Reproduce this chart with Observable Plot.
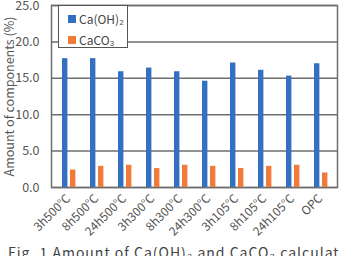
<!DOCTYPE html>
<html><head><meta charset="utf-8">
<script src="https://cdn.jsdelivr.net/npm/d3@7"></script>
<script src="https://cdn.jsdelivr.net/npm/@observablehq/plot@0.6"></script>
<style>
html,body{margin:0;padding:0;background:#fff;overflow:hidden;width:340px;height:256px;}
#wrap{position:relative;width:340px;height:242px;}
#chart svg{font-family:"Noto Sans CJK JP",sans-serif;}
#legend{position:absolute;left:58px;top:5px;width:70px;height:43px;background:#fff;border:1px solid #555;box-sizing:border-box;font:12px "Noto Sans CJK JP",sans-serif;color:#444;}
.li{position:absolute;left:9px;display:flex;align-items:center;line-height:14px;}
.sw{width:8px;height:8px;margin-right:3px;}
#cap{font:14px "Noto Sans CJK JP",sans-serif;color:#444;padding-left:8px;letter-spacing:1px;white-space:nowrap;line-height:20px;}
</style></head><body>
<div id="wrap"><div id="chart"></div>
<div id="legend"></div></div>
<div id="cap">Fig. 1  Amount of Ca(OH)₂ and CaCO₃ calculated</div>
<script>
const categories = ["3h500°C","8h500°C","24h500°C","3h300°C","8h300°C","24h300°C","3h105°C","8h105°C","24h105°C","OPC"];
const caOH2 = [17.7,17.7,15.9,16.4,15.9,14.6,17.1,16.1,15.3,17.0];
const caCO3 = [2.4,2.9,3.05,2.6,3.05,2.9,2.6,2.9,3.05,2.0];
const seriesNames = ["Ca(OH)₂","CaCO₃"];
const colors = ["#3470C2","#EF7B3A"];
const yTicks = [0,5,10,15,20,25];

const data = categories.map((c,i)=>({cat:c, a:caOH2[i], b:caCO3[i]}));

const plot = Plot.plot({
  width: 340, height: 242,
  marginLeft: 51, marginRight: 3, marginTop: 5, marginBottom: 55,
  x: {domain: categories, padding: 0, label: null},
  y: {domain: [0,25], label: "Amount of components (%)"},
  marks: [
    Plot.ruleY(yTicks, {stroke: "#6e6e6e", strokeWidth: 1.5}),
    Plot.frame({stroke: "#6e6e6e", strokeWidth: 1.5}),
    Plot.barY(data, {x: "cat", y: "a", fill: colors[0], insetLeft: 8, insetRight: 14.6}),
    Plot.barY(data, {x: "cat", y: "b", fill: colors[1], insetLeft: 16, insetRight: 6.6}),
    Plot.axisY({ticks: yTicks, tickFormat: d3.format(".1f"), tickSize: 0, tickPadding: 12, fill: "#555",
      label: "Amount of components (%)", labelAnchor: "center", labelArrow: "none", labelOffset: 46, fontSize: 12.5, letterSpacing: "0.3px"}),
    Plot.axisX({tickSize: 0, tickRotate: -45, tickPadding: 9, fontSize: 12, fill: "#555", label: null})
  ]
});
document.getElementById("chart").appendChild(plot);

const lg = document.getElementById("legend");
seriesNames.forEach((n,i)=>{
  const d = document.createElement("div");
  d.className = "li"; d.style.top = (6 + i*21) + "px";
  d.innerHTML = `<span class="sw" style="background:${colors[i]}"></span><span>${n}</span>`;
  lg.appendChild(d);
});
</script>
</body></html>
